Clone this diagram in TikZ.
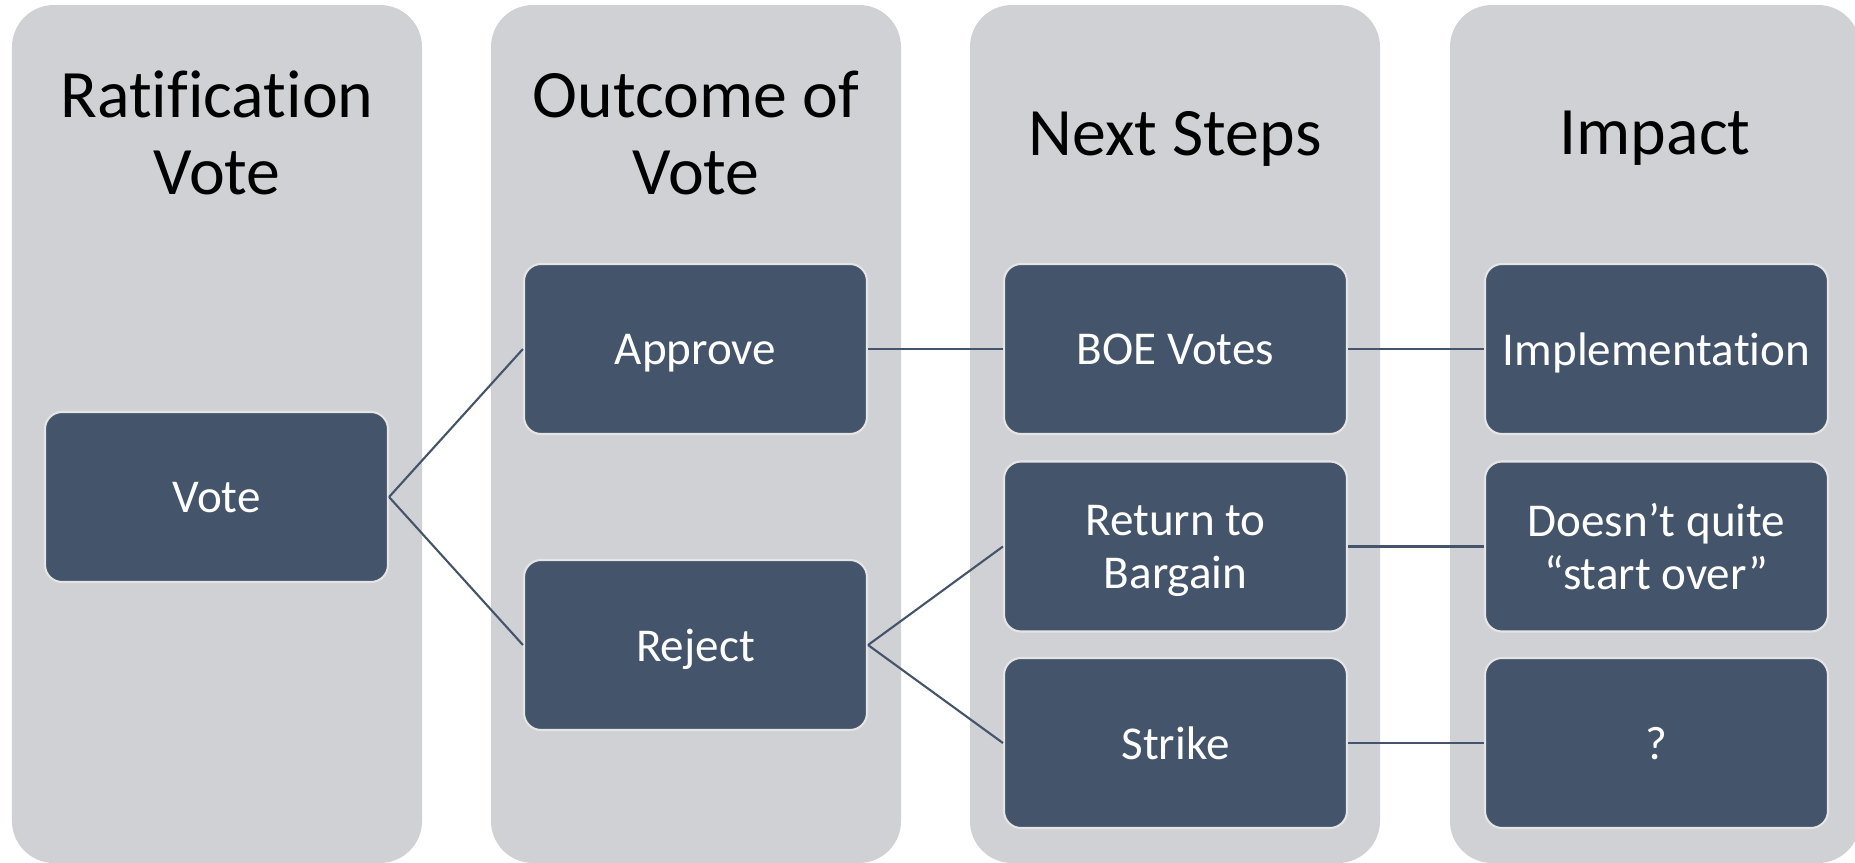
\documentclass[tikz,border=0pt]{standalone}
\usepackage{fontspec}
\setmainfont{Carlito}[Ligatures=CommonOff]
\definecolor{lane}{HTML}{D0D1D5}
\definecolor{slate}{HTML}{44546A}
\tikzset{
	head/.style={align=center, inner sep=0, text depth=0pt, font=\fontsize{19.3}{21.9}\selectfont},
	box/.style={rounded corners=0.17cm, fill=slate, draw=white!90!black, line width=0.6pt,
		text=white, minimum width=3.43cm, minimum height=1.70cm, inner sep=0, text depth=0pt,
		align=center, font=\fontsize{13.4}{15.1}\selectfont}
}
\begin{document}
\begin{tikzpicture}
\useasboundingbox (0,0) rectangle (18.55,8.62);
\clip (0,0) rectangle (18.55,8.62);

% lanes
\foreach \x in {0.12,4.91,9.70,14.50}{
	\fill[lane, rounded corners=0.42cm] (\x,-0.01) rectangle ++(4.10,8.58);
}

% headers
\foreach [count=\i] \x\t in {2.17/{Ratification\\Vote},6.96/{Outcome of\\Vote},11.75/{Next Steps},16.55/{Impact}}{
	\node[head](h\i) at(\x,7.29) {\t};
}

% boxes
\foreach \n\x\y\t in {
vote/2.165/3.65/{Vote}%
,approve/6.955/5.13/{Approve}%
,reject/6.955/2.17/{Reject}%
,boe/11.755/5.13/{BOE Votes}%
,bargain/11.755/3.155/{Return to\\Bargain}%
,strike/11.755/1.19/{Strike}%
,impl/16.565/5.13/{Implementation}%
,quite/16.565/3.155/{Doesn’t quite\\“start over”}%
,unknown/16.565/1.19/{?}%
}{
	\node[box](\n) at(\x,\y) {\t};
}

\foreach \u \v in {
vote/approve%
,vote/reject%
,approve/boe%
,reject/bargain%
,reject/strike%
,boe/impl%
,bargain/quite%
,strike/unknown%
}{
	\draw[slate, line width=0.6pt] (\u.east) -- (\v.west);
}

\end{tikzpicture}
\end{document}
